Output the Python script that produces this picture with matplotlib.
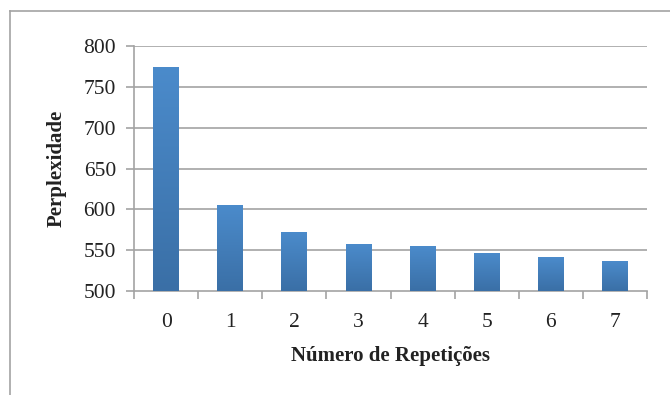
import numpy as np
import matplotlib.pyplot as plt
from matplotlib.colors import LinearSegmentedColormap

plt.rcParams['font.family'] = ['Liberation Serif', 'DejaVu Serif']

repeticoes = ['0', '1', '2', '3', '4', '5', '6', '7']
perplexidade = [774, 605, 572, 557, 554, 546, 541, 536]
marcas_y = [500, 550, 600, 650, 700, 750, 800]

cinza = '#a3a3a3'
gradiente = LinearSegmentedColormap.from_list('azul', ['#3a6fa6', '#4b8bcb'])

fig = plt.figure(figsize=(6.7, 3.95), dpi=100)

# moldura externa do gráfico (só as bordas esquerda e superior aparecem)
moldura = fig.add_axes([10 / 670, 0.0, 660 / 670, 1 - 11 / 395])
moldura.set_facecolor('none')
moldura.set_xticks([])
moldura.set_yticks([])
for s in ['right', 'bottom']:
    moldura.spines[s].set_visible(False)
for s in ['left', 'top']:
    moldura.spines[s].set_color(cinza)
    moldura.spines[s].set_linewidth(1.2)

ax = fig.add_axes([0.2, 0.2633, 0.7657, 0.6202])
ax.set_facecolor('none')

x = np.arange(len(repeticoes))
largura = 0.4

# degradê vertical em cada barra
grad = np.linspace(0, 1, 256).reshape(-1, 1)
for xi, v in zip(x, perplexidade):
    ax.imshow(grad, cmap=gradiente, origin='lower', aspect='auto',
              extent=(xi - largura / 2, xi + largura / 2, 500, v),
              zorder=3, interpolation='bicubic')

ax.set_xlim(-0.5, len(repeticoes) - 0.5)
ax.set_ylim(500, 800)
ax.set_yticks(marcas_y)
ax.set_xticks(x)
ax.set_xticklabels(repeticoes)
ax.set_xticks(np.arange(-0.5, len(repeticoes)), minor=True)

# linhas de grade
for v in marcas_y[1:]:
    ax.axhline(v, color=cinza, linewidth=1.2, zorder=1)

for s in ['top', 'right']:
    ax.spines[s].set_visible(False)
for s in ['left', 'bottom']:
    ax.spines[s].set_color(cinza)
    ax.spines[s].set_linewidth(1.2)

ax.tick_params(axis='y', length=6, width=1.2, color=cinza, labelsize=15.5,
               labelcolor='#222222', pad=7)
ax.tick_params(axis='x', which='major', length=0, labelsize=15.5,
               labelcolor='#222222', pad=16)
ax.tick_params(axis='x', which='minor', length=6, width=1.2, color=cinza)

ax.set_xlabel('Número de Repetições', fontsize=15, fontweight='bold',
              color='#222222', labelpad=10)
ax.set_ylabel('Perplexidade', fontsize=15, fontweight='bold',
              color='#222222', labelpad=12)

fig.savefig('out.png', dpi=100)
